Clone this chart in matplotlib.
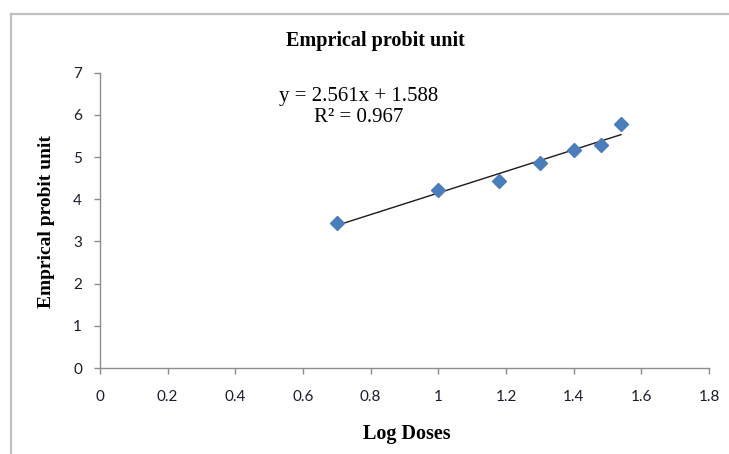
import matplotlib
matplotlib.use("Agg")
import matplotlib.pyplot as plt
from matplotlib.lines import Line2D
import numpy as np

# Data
log_doses = [0.70, 1.00, 1.18, 1.30, 1.40, 1.48, 1.54]
probit = [3.44, 4.23, 4.43, 4.87, 5.16, 5.28, 5.79]
slope = 2.561
intercept = 1.588
r2 = 0.967
x_ticks = [0, 0.2, 0.4, 0.6, 0.8, 1.0, 1.2, 1.4, 1.6, 1.8]
x_tick_labels = ["0", "0.2", "0.4", "0.6", "0.8", "1", "1.2", "1.4", "1.6", "1.8"]
y_ticks = [0, 1, 2, 3, 4, 5, 6, 7]

W, H = 729, 454
fig = plt.figure(figsize=(W / 100, H / 100), dpi=100)
fig.patch.set_facecolor("white")

# Outer chart border (partially out of frame)
border_col = "#c0c0c0"
fig.add_artist(Line2D([11 / W, 11 / W], [0, 1 - 14 / H], transform=fig.transFigure,
                      color=border_col, lw=1.6))
fig.add_artist(Line2D([11 / W, 1.0], [1 - 14 / H, 1 - 14 / H], transform=fig.transFigure,
                      color=border_col, lw=1.6))

left, right = 100 / W, 709 / W
bottom, top = 1 - 368 / H, 1 - 72.7 / H
ax = fig.add_axes([left, bottom, right - left, top - bottom])

ax.set_xlim(0, 1.8)
ax.set_ylim(0, 7)

axis_col = "#8c8c8c"
for s in ["top", "right"]:
    ax.spines[s].set_visible(False)
for s in ["left", "bottom"]:
    ax.spines[s].set_color(axis_col)
    ax.spines[s].set_linewidth(1.0)

tick_font = "Lato"
ax.set_xticks(x_ticks)
ax.set_xticklabels(x_tick_labels, fontsize=11, family=tick_font, color="#1a1a2a")
ax.set_yticks(y_ticks)
ax.set_yticklabels([str(v) for v in y_ticks], fontsize=11, family=tick_font, color="#1a1a2a")
ax.tick_params(axis="both", direction="out", length=4, width=1.0, color=axis_col)
ax.tick_params(axis="x", pad=12)
ax.tick_params(axis="y", pad=9)

# Trend line
xl = np.array([min(log_doses), max(log_doses)])
ax.plot(xl, slope * xl + intercept, color="#1a1a1a", lw=1.0, zorder=2)

# Points
ax.plot(log_doses, probit, linestyle="none", marker="D", markersize=6.8,
        color="#4a7ebb", markeredgecolor="#4a7ebb", zorder=3)

serif = "Liberation Serif"
fig.text(375 / W, 1 - 41 / H, "Emprical probit unit", ha="center", va="center",
         fontsize=14.5, fontweight="bold", family=serif)
fig.text(407 / W, 1 - 434 / H, "Log Doses", ha="center", va="center",
         fontsize=14.5, fontweight="bold", family=serif)
fig.text(47 / W, 1 - 222 / H, "Emprical probit unit", ha="center", va="center",
         rotation=90, fontsize=14, fontweight="bold", family=serif)

fig.text(359 / W, 1 - 96 / H, f"y = {slope}x + {intercept}", ha="center", va="center",
         fontsize=15, family=serif)
fig.text(359 / W, 1 - 117 / H, f"R² = {r2}", ha="center", va="center",
         fontsize=15, family=serif)

fig.savefig("out.png", dpi=100)
